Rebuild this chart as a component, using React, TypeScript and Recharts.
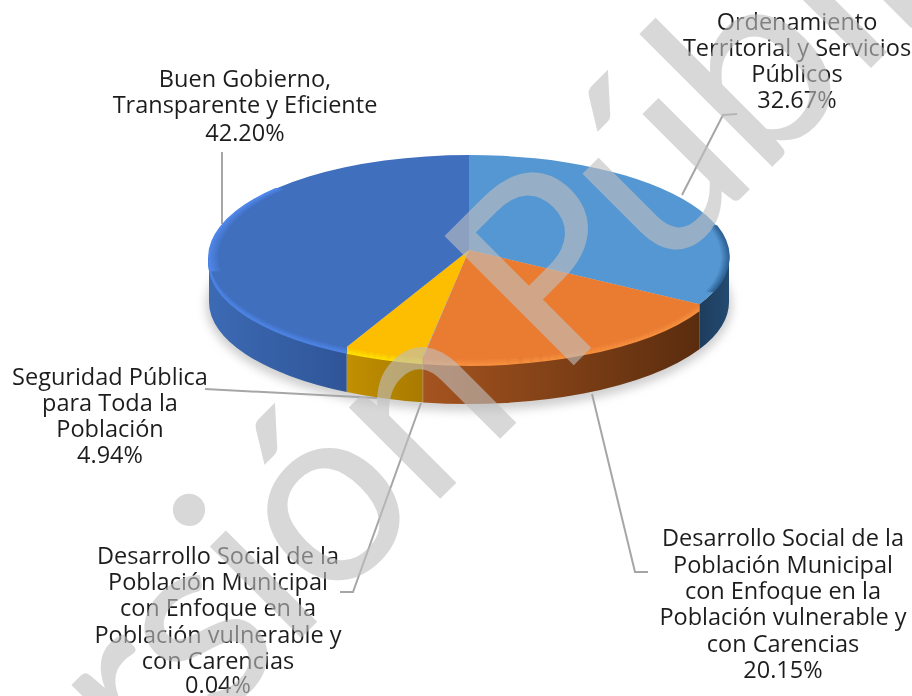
import { Pie, PieChart } from 'recharts';

// datos
const categories = [
  'Ordenamiento Territorial y Servicios Públicos',
  'Desarrollo Social (20.15)',
  'Desarrollo Social (0.04)',
  'Seguridad Pública para Toda la Población',
  'Buen Gobierno, Transparente y Eficiente',
];
const shares = [32.67, 20.15, 0.04, 4.94, 42.2];
const labelLines = [
  ['Ordenamiento', 'Territorial y Servicios', 'Públicos', '32.67%'],
  ['Desarrollo Social de la', 'Población Municipal', 'con Enfoque en la', 'Población vulnerable y', 'con Carencias', '20.15%'],
  ['Desarrollo Social de la', 'Población Municipal', 'con Enfoque en la', 'Población vulnerable y', 'con Carencias', '0.04%'],
  ['Seguridad Pública', 'para Toda la', 'Población', '4.94%'],
  ['Buen Gobierno,', 'Transparente y Eficiente', '42.20%'],
];

const FACE = ['#5597d3', '#ea7c32', '#a5a5a5', '#fdbd00', '#406fbe'];
const GLOW = ['#5597d3', '#f8913f', '#c9772f', '#ffe400', '#4f86e8'];
const WALL_L = ['#1d3d5e', '#a5541f', '#a5541f', '#c29000', '#3c6ab4'];
const WALL_R = ['#234a70', '#5a2c0e', '#a5541f', '#a87a00', '#2f5597'];

const CX = 469;
const CY = 257;
const RX = 260;
const RY = 102;
const APEX_Y = 250;
const DEPTH = 45;
const BEVEL = 15;

const LABEL_POS = [
  { x: 797, y: [21, 47, 73, 99] },
  { x: 783, y: [537, 564, 590, 616, 643, 669] },
  { x: 218, y: [555, 581, 607, 634, 660, 684] },
  { x: 110, y: [376, 402, 428, 454] },
  { x: 245, y: [78, 104, 132] },
];
const LEADERS = [
  '737,114 723,115 682,195',
  '648,572 635,572 592,394',
  '340,592 353,592 421,403',
  '205,389 377,398',
  '222,152 222,224',
];

const pieData = categories.map((name, i) => ({ name, value: shares[i], fill: FACE[i] }));

function rim(angle: number, dy = 0, dx = 0) {
  const r = (angle * Math.PI) / 180;
  return { x: CX + dx + RX * Math.cos(r), y: CY - RY * Math.sin(r) + dy };
}

function mix(a: string, b: string, t: number) {
  const p = (c: string, i: number) => parseInt(c.slice(1 + i * 2, 3 + i * 2), 16);
  const ch = [0, 1, 2].map((i) => Math.round(p(a, i) + (p(b, i) - p(a, i)) * t));
  return `rgb(${ch.join(',')})`;
}

function arc(from: number, to: number, dy = 0, dx = 0) {
  const a = rim(from, dy, dx);
  const b = rim(to, dy, dx);
  const sweep = from > to ? 1 : 0;
  return { a, b, d: `A${RX} ${RY} 0 0 ${sweep} ${b.x} ${b.y}` };
}

// brillo lateral sobre la cara superior
function edgeStrips(from: number, to: number, side: number, count: number, edge: string, face: string) {
  const out = [];
  for (let k = count; k >= 0; k -= 1) {
    const s = arc(from, to, 0, side * k);
    out.push(
      <path
        key={`e${k}`}
        d={`M${s.a.x} ${s.a.y} ${s.d}`}
        fill="none"
        stroke={mix(edge, face, k / count)}
        strokeWidth={1.6}
      />,
    );
  }
  return out;
}

function Slice(props: any) {
  const { startAngle, endAngle, fill } = props;
  const i = FACE.indexOf(fill);
  const top = arc(startAngle, endAngle);
  const from = Math.min(startAngle, 0);
  const to = Math.max(endAngle, -180);
  const hasWall = from > to;
  const strips = [];
  let wallPath = '';
  if (hasWall) {
    const upper = arc(from, to);
    const lower = arc(to, from, DEPTH);
    wallPath = `M${upper.a.x} ${upper.a.y} ${upper.d} L${lower.a.x} ${lower.a.y} ${lower.d} Z`;
    if (i !== 0) {
      for (let k = 0; k <= BEVEL; k += 1) {
        const t = k / BEVEL;
        const wallMid = mix(WALL_L[i], WALL_R[i], 0.5);
        const colour = t < 0.45 ? mix(FACE[i], GLOW[i], t / 0.45) : mix(GLOW[i], wallMid, (t - 0.45) / 0.55);
        const s = arc(from, to, k);
        strips.push(
          <path key={k} d={`M${s.a.x} ${s.a.y} ${s.d}`} fill="none" stroke={colour} strokeWidth={1.6} />,
        );
      }
    }
  }
  const gradId = `wall-${i}`;
  return (
    <g>
      <defs>
        <linearGradient id={gradId} x1="0" y1="0" x2="1" y2="0">
          <stop offset="0" stopColor={WALL_L[i]} />
          <stop offset="1" stopColor={WALL_R[i]} />
        </linearGradient>
      </defs>
      {hasWall && <path d={wallPath} fill={`url(#${gradId})`} />}
      {strips}
      <path d={`M${CX} ${APEX_Y} L${top.a.x} ${top.a.y} ${top.d} Z`} fill={fill} />
      {i === 4 && edgeStrips(-172, -222, 1, 10, GLOW[4], FACE[4])}
      {i === 0 && edgeStrips(18, -20, -1, 8, '#2f6396', FACE[0])}
    </g>
  );
}

export default function App() {
  return (
    <div style={{ position: 'absolute', left: 0, top: 0, width: 912, height: 696, background: '#fff', overflow: 'hidden' }}>
      <PieChart width={912} height={696} margin={{ top: 0, right: 0, bottom: 0, left: 0 }}>
        <defs>
          <filter id="soft" x="-20%" y="-20%" width="140%" height="140%">
            <feGaussianBlur stdDeviation="5" />
          </filter>
          <filter id="jpeg" x="-5%" y="-5%" width="110%" height="110%">
            <feGaussianBlur stdDeviation="0.45" />
          </filter>
        </defs>
        <ellipse cx={CX} cy={CY + DEPTH + 3} rx={RX + 3} ry={RY + 4} fill="#cfcfcf" filter="url(#soft)" />
        <Pie
          data={pieData}
          dataKey="value"
          nameKey="name"
          cx={CX}
          cy={CY}
          outerRadius={RX}
          startAngle={90}
          endAngle={-270}
          stroke="none"
          shape={Slice}
          isAnimationActive={false}
        />
        {LEADERS.map((pts) => (
          <polyline key={pts} points={pts} fill="none" stroke="#a6a6a6" strokeWidth={2} />
        ))}
        <g filter="url(#jpeg)" fontFamily="'Open Sans', sans-serif" fontSize={23.5} fill="#1f1f1f" textAnchor="middle">
          {labelLines.map((lines, i) =>
            lines.map((line, j) => (
              <text key={`${i}-${j}`} x={LABEL_POS[i].x} y={LABEL_POS[i].y[j]} dominantBaseline="central">
                {line}
              </text>
            )),
          )}
        </g>
      </PieChart>
      <svg width={912} height={696} style={{ position: 'absolute', left: 0, top: 0 }}>
        <text
          transform="translate(-48 987) rotate(-45)"
          fontFamily="Lato, sans-serif"
          fontSize={255}
          letterSpacing={-4}
          wordSpacing={-16}
          fill="#c0c0c0"
          fillOpacity={0.61}
        >
          Versión Pública
        </text>
      </svg>
    </div>
  );
}
